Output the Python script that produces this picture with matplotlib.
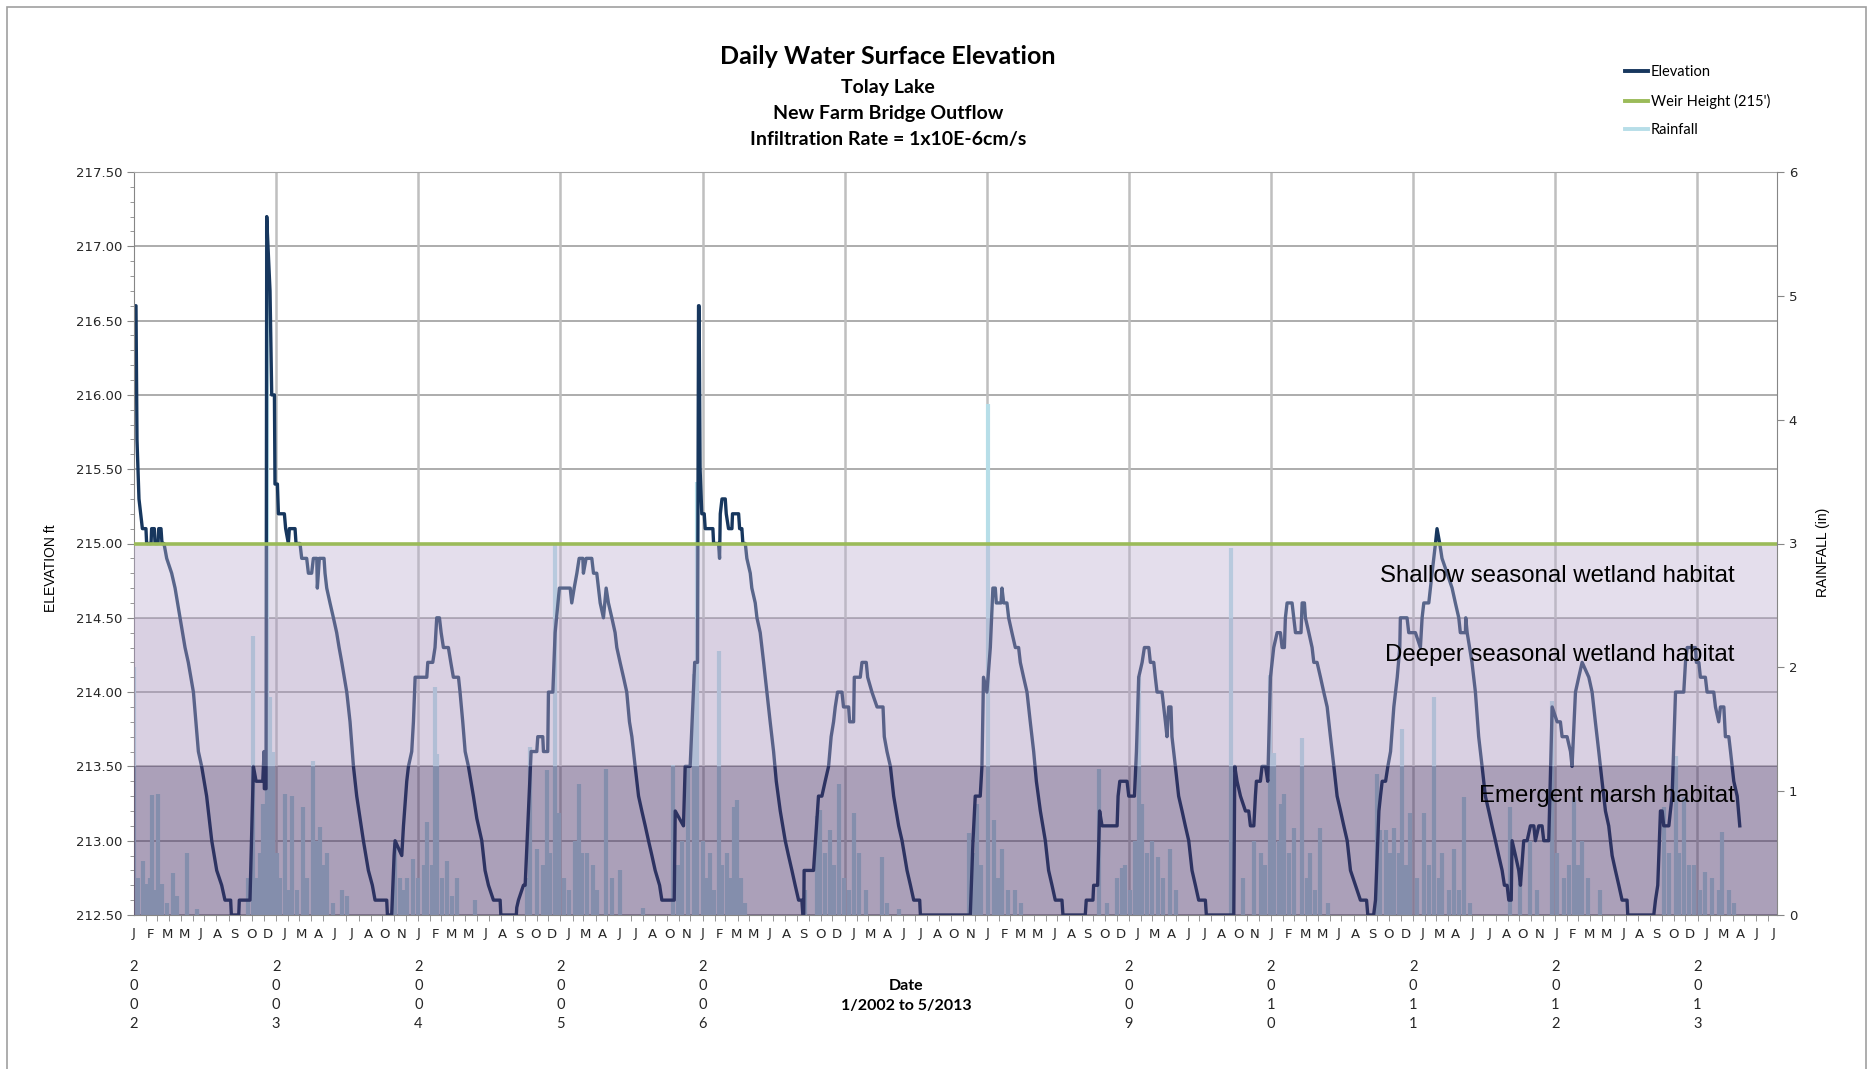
import datetime as dt
import numpy as np
import matplotlib
matplotlib.use("Agg")
import matplotlib.pyplot as plt
from matplotlib.patches import Rectangle
from matplotlib.lines import Line2D
from matplotlib.ticker import MultipleLocator, FormatStrFormatter

# daily water surface elevation (ft), turning points (x = decimal year)
elev_year = [
    2002.000, 2002.014, 2002.021, 2002.035, 2002.047, 2002.059, 2002.084, 2002.089, 2002.120, 2002.124,
    2002.143, 2002.148, 2002.169, 2002.174, 2002.190, 2002.197, 2002.211, 2002.230, 2002.265, 2002.289,
    2002.324, 2002.359, 2002.382, 2002.418, 2002.453, 2002.476, 2002.511, 2002.547, 2002.582, 2002.617,
    2002.640, 2002.680, 2002.685, 2002.737, 2002.741, 2002.816, 2002.840, 2002.859, 2002.906, 2002.915,
    2002.917, 2002.929, 2002.934, 2002.938, 2002.957, 2002.969, 2002.988, 2002.992, 2003.009, 2003.016,
    2003.058, 2003.067, 2003.086, 2003.093, 2003.133, 2003.140, 2003.168, 2003.180, 2003.215, 2003.227,
    2003.250, 2003.262, 2003.286, 2003.290, 2003.304, 2003.337, 2003.344, 2003.356, 2003.379, 2003.403,
    2003.426, 2003.443, 2003.462, 2003.497, 2003.520, 2003.544, 2003.567, 2003.614, 2003.649, 2003.677,
    2003.696, 2003.778, 2003.783, 2003.813, 2003.830, 2003.837, 2003.884, 2003.896, 2003.919, 2003.931,
    2003.954, 2003.966, 2003.978, 2004.060, 2004.067, 2004.102, 2004.118, 2004.130, 2004.149, 2004.161,
    2004.177, 2004.212, 2004.229, 2004.247, 2004.283, 2004.294, 2004.313, 2004.330, 2004.353, 2004.388,
    2004.412, 2004.447, 2004.470, 2004.494, 2004.529, 2004.576, 2004.581, 2004.690, 2004.693, 2004.705,
    2004.740, 2004.752, 2004.775, 2004.794, 2004.834, 2004.841, 2004.876, 2004.881, 2004.911, 2004.916,
    2004.947, 2004.963, 2004.993, 2005.069, 2005.080, 2005.097, 2005.116, 2005.132, 2005.158, 2005.162,
    2005.181, 2005.221, 2005.233, 2005.256, 2005.268, 2005.280, 2005.303, 2005.322, 2005.338, 2005.362,
    2005.385, 2005.397, 2005.420, 2005.444, 2005.467, 2005.486, 2005.503, 2005.526, 2005.550, 2005.573,
    2005.597, 2005.620, 2005.644, 2005.667, 2005.698, 2005.714, 2005.801, 2005.808, 2005.866, 2005.878,
    2005.913, 2005.945, 2005.965, 2005.972, 2005.976, 2005.983, 2005.995, 2006.012, 2006.019, 2006.073,
    2006.078, 2006.113, 2006.120, 2006.125, 2006.137, 2006.160, 2006.167, 2006.183, 2006.207, 2006.211,
    2006.254, 2006.261, 2006.277, 2006.284, 2006.301, 2006.312, 2006.336, 2006.347, 2006.371, 2006.383,
    2006.406, 2006.430, 2006.453, 2006.476, 2006.500, 2006.519, 2006.547, 2006.582, 2006.605, 2006.629,
    2006.652, 2006.676, 2006.699, 2006.706, 2006.712, 2006.715, 2006.781, 2006.816, 2006.840, 2006.863,
    2006.887, 2006.905, 2006.922, 2006.934, 2006.950, 2006.981, 2006.992, 2007.028, 2007.035, 2007.063,
    2007.068, 2007.110, 2007.122, 2007.152, 2007.162, 2007.192, 2007.228, 2007.270, 2007.279, 2007.298,
    2007.322, 2007.345, 2007.380, 2007.404, 2007.439, 2007.463, 2007.486, 2007.528, 2007.533, 2007.884,
    2007.903, 2007.919, 2007.954, 2007.966, 2007.977, 2008.001, 2008.025, 2008.043, 2008.060, 2008.067,
    2008.100, 2008.107, 2008.119, 2008.142, 2008.154, 2008.177, 2008.201, 2008.224, 2008.236, 2008.259,
    2008.283, 2008.306, 2008.330, 2008.349, 2008.377, 2008.412, 2008.435, 2008.459, 2008.482, 2008.529,
    2008.536, 2008.693, 2008.700, 2008.747, 2008.752, 2008.780, 2008.794, 2008.811, 2008.917, 2008.924,
    2008.936, 2008.987, 2008.999, 2009.039, 2009.053, 2009.069, 2009.093, 2009.109, 2009.140, 2009.151,
    2009.175, 2009.186, 2009.198, 2009.233, 2009.245, 2009.257, 2009.268, 2009.280, 2009.296, 2009.303,
    2009.327, 2009.350, 2009.374, 2009.397, 2009.421, 2009.444, 2009.468, 2009.491, 2009.538, 2009.545,
    2009.738, 2009.745, 2009.761, 2009.785, 2009.820, 2009.843, 2009.855, 2009.879, 2009.890, 2009.897,
    2009.925, 2009.937, 2009.961, 2009.977, 2009.996, 2010.019, 2010.043, 2010.066, 2010.078, 2010.094,
    2010.101, 2010.113, 2010.148, 2010.160, 2010.172, 2010.211, 2010.219, 2010.235, 2010.242, 2010.266,
    2010.289, 2010.301, 2010.324, 2010.348, 2010.371, 2010.395, 2010.418, 2010.442, 2010.465, 2010.489,
    2010.512, 2010.536, 2010.559, 2010.594, 2010.629, 2010.672, 2010.681, 2010.722, 2010.735, 2010.759,
    2010.770, 2010.782, 2010.806, 2010.822, 2010.841, 2010.864, 2010.888, 2010.906, 2010.910, 2010.957,
    2010.969, 2011.016, 2011.051, 2011.063, 2011.075, 2011.110, 2011.133, 2011.157, 2011.168, 2011.187,
    2011.203, 2011.239, 2011.274, 2011.297, 2011.321, 2011.332, 2011.368, 2011.370, 2011.380, 2011.414,
    2011.438, 2011.461, 2011.485, 2011.508, 2011.532, 2011.555, 2011.579, 2011.602, 2011.626, 2011.642,
    2011.661, 2011.673, 2011.690, 2011.696, 2011.720, 2011.743, 2011.755, 2011.778, 2011.802, 2011.825,
    2011.849, 2011.860, 2011.884, 2011.907, 2011.919, 2011.954, 2011.978, 2012.013, 2012.036, 2012.048,
    2012.083, 2012.107, 2012.118, 2012.142, 2012.165, 2012.189, 2012.236, 2012.259, 2012.282, 2012.306,
    2012.329, 2012.353, 2012.376, 2012.400, 2012.423, 2012.447, 2012.470, 2012.505, 2012.510, 2012.693,
    2012.705, 2012.721, 2012.740, 2012.752, 2012.763, 2012.799, 2012.810, 2012.822, 2012.846, 2012.904,
    2012.916, 2012.928, 2012.986, 2012.993, 2013.010, 2013.021, 2013.056, 2013.068, 2013.115, 2013.127,
    2013.150, 2013.162, 2013.186, 2013.197, 2013.221, 2013.233, 2013.256, 2013.280, 2013.298,
]
elev_ft = [
    216.6, 216.6, 215.7, 215.3, 215.2, 215.1, 215.1, 215.0, 215.0, 215.1,
    215.1, 215.0, 215.0, 215.1, 215.1, 215.0, 215.0, 214.9, 214.8, 214.7,
    214.5, 214.3, 214.2, 214.0, 213.6, 213.5, 213.3, 213.0, 212.8, 212.7,
    212.6, 212.6, 212.5, 212.5, 212.6, 212.6, 213.5, 213.4, 213.4, 213.6,
    213.35, 213.35, 217.2, 217.1, 216.7, 216.0, 216.0, 215.4, 215.4, 215.2,
    215.2, 215.1, 215.0, 215.1, 215.1, 215.0, 215.0, 214.9, 214.9, 214.8,
    214.8, 214.9, 214.9, 214.7, 214.9, 214.9, 214.8, 214.7, 214.6, 214.5,
    214.4, 214.3, 214.2, 214.0, 213.8, 213.5, 213.3, 213.0, 212.8, 212.7,
    212.6, 212.6, 212.5, 212.5, 212.9, 213.0, 212.9, 213.1, 213.4, 213.5,
    213.6, 213.8, 214.1, 214.1, 214.2, 214.2, 214.3, 214.5, 214.5, 214.4,
    214.3, 214.3, 214.2, 214.1, 214.1, 214.0, 213.8, 213.6, 213.5, 213.3,
    213.15, 213.0, 212.8, 212.7, 212.6, 212.6, 212.5, 212.5, 212.55, 212.6,
    212.7, 212.7, 213.2, 213.6, 213.6, 213.7, 213.7, 213.6, 213.6, 214.0,
    214.0, 214.4, 214.7, 214.7, 214.6, 214.7, 214.8, 214.9, 214.9, 214.8,
    214.9, 214.9, 214.8, 214.8, 214.7, 214.6, 214.5, 214.7, 214.6, 214.5,
    214.4, 214.3, 214.2, 214.1, 214.0, 213.8, 213.7, 213.5, 213.3, 213.2,
    213.1, 213.0, 212.9, 212.8, 212.7, 212.6, 212.6, 213.2, 213.1, 213.5,
    213.5, 214.2, 214.2, 216.6, 216.6, 215.5, 215.2, 215.2, 215.1, 215.1,
    215.0, 215.0, 214.9, 215.2, 215.3, 215.3, 215.2, 215.1, 215.1, 215.2,
    215.2, 215.1, 215.1, 215.0, 215.0, 214.9, 214.8, 214.7, 214.6, 214.5,
    214.4, 214.2, 214.0, 213.8, 213.6, 213.4, 213.2, 213.0, 212.9, 212.8,
    212.7, 212.6, 212.6, 212.5, 212.5, 212.8, 212.8, 213.3, 213.3, 213.4,
    213.5, 213.7, 213.8, 213.9, 214.0, 214.0, 213.9, 213.9, 213.8, 213.8,
    214.1, 214.1, 214.2, 214.2, 214.1, 214.0, 213.9, 213.9, 213.7, 213.6,
    213.5, 213.3, 213.1, 213.0, 212.8, 212.7, 212.6, 212.6, 212.5, 212.5,
    213.0, 213.3, 213.3, 213.5, 214.1, 214.0, 214.3, 214.7, 214.7, 214.6,
    214.6, 214.7, 214.6, 214.6, 214.5, 214.4, 214.3, 214.3, 214.2, 214.1,
    214.0, 213.8, 213.6, 213.4, 213.2, 213.0, 212.8, 212.7, 212.6, 212.6,
    212.5, 212.5, 212.6, 212.6, 212.7, 212.7, 213.2, 213.1, 213.1, 213.3,
    213.4, 213.4, 213.3, 213.3, 213.6, 214.1, 214.2, 214.3, 214.3, 214.2,
    214.2, 214.1, 214.0, 214.0, 213.9, 213.8, 213.7, 213.9, 213.9, 213.7,
    213.5, 213.3, 213.2, 213.1, 213.0, 212.8, 212.7, 212.6, 212.6, 212.5,
    212.5, 213.5, 213.4, 213.3, 213.2, 213.2, 213.1, 213.1, 213.3, 213.4,
    213.4, 213.5, 213.5, 213.4, 214.1, 214.3, 214.4, 214.4, 214.3, 214.3,
    214.5, 214.6, 214.6, 214.5, 214.4, 214.4, 214.6, 214.6, 214.5, 214.4,
    214.3, 214.2, 214.2, 214.1, 214.0, 213.9, 213.7, 213.5, 213.3, 213.2,
    213.1, 213.0, 212.8, 212.7, 212.6, 212.6, 212.5, 212.5, 212.6, 213.2,
    213.3, 213.4, 213.4, 213.5, 213.6, 213.9, 214.1, 214.3, 214.5, 214.5,
    214.4, 214.4, 214.3, 214.5, 214.6, 214.6, 214.8, 215.0, 215.1, 215.0,
    214.9, 214.8, 214.7, 214.6, 214.5, 214.4, 214.4, 214.5, 214.4, 214.2,
    214.0, 213.7, 213.5, 213.3, 213.2, 213.1, 213.0, 212.9, 212.8, 212.7,
    212.7, 212.6, 212.6, 213.0, 212.9, 212.8, 212.7, 213.0, 213.0, 213.1,
    213.1, 213.0, 213.1, 213.1, 213.0, 213.0, 213.9, 213.8, 213.8, 213.7,
    213.7, 213.6, 213.5, 214.0, 214.1, 214.2, 214.1, 214.0, 213.8, 213.6,
    213.4, 213.2, 213.1, 212.9, 212.8, 212.7, 212.6, 212.6, 212.5, 212.5,
    212.6, 212.7, 213.2, 213.2, 213.1, 213.1, 213.2, 213.3, 214.0, 214.0,
    214.2, 214.3, 214.3, 214.2, 214.2, 214.1, 214.1, 214.0, 214.0, 213.9,
    213.8, 213.9, 213.9, 213.7, 213.7, 213.6, 213.4, 213.3, 213.1,
]

# daily rainfall (in), main events
rain_year = [
    2002.000, 2002.030, 2002.066, 2002.089, 2002.110, 2002.124, 2002.148, 2002.171, 2002.195, 2002.230,
    2002.277, 2002.300, 2002.371, 2002.441, 2002.800, 2002.840, 2002.863, 2002.887, 2002.910, 2002.934,
    2002.957, 2002.981, 2003.009, 2003.030, 2003.063, 2003.085, 2003.110, 2003.150, 2003.192, 2003.215,
    2003.262, 2003.286, 2003.309, 2003.330, 2003.356, 2003.400, 2003.462, 2003.497, 2003.837, 2003.872,
    2003.900, 2003.919, 2003.966, 2004.000, 2004.040, 2004.060, 2004.095, 2004.118, 2004.130, 2004.165,
    2004.200, 2004.240, 2004.271, 2004.400, 2004.764, 2004.787, 2004.834, 2004.876, 2004.905, 2004.928,
    2004.963, 2004.987, 2005.022, 2005.060, 2005.100, 2005.128, 2005.151, 2005.186, 2005.233, 2005.260,
    2005.322, 2005.362, 2005.420, 2005.584, 2005.795, 2005.830, 2005.853, 2005.900, 2005.937, 2005.960,
    2006.002, 2006.030, 2006.054, 2006.080, 2006.113, 2006.140, 2006.172, 2006.200, 2006.219, 2006.242,
    2006.270, 2006.301, 2006.723, 2006.805, 2006.829, 2006.864, 2006.899, 2006.922, 2006.957, 2006.992,
    2007.030, 2007.063, 2007.098, 2007.150, 2007.262, 2007.300, 2007.380, 2007.872, 2007.908, 2007.931,
    2007.960, 2008.010, 2008.048, 2008.080, 2008.107, 2008.150, 2008.201, 2008.240, 2008.787, 2008.846,
    2008.917, 2008.952, 2008.975, 2009.010, 2009.040, 2009.069, 2009.093, 2009.128, 2009.160, 2009.207,
    2009.240, 2009.289, 2009.330, 2009.718, 2009.800, 2009.877, 2009.930, 2009.961, 2009.996, 2010.019,
    2010.054, 2010.070, 2010.089, 2010.124, 2010.160, 2010.219, 2010.250, 2010.277, 2010.310, 2010.348,
    2010.400, 2010.747, 2010.770, 2010.806, 2010.840, 2010.864, 2010.900, 2010.923, 2010.950, 2010.981,
    2011.030, 2011.075, 2011.110, 2011.145, 2011.180, 2011.204, 2011.250, 2011.286, 2011.320, 2011.356,
    2011.400, 2011.684, 2011.755, 2011.825, 2011.870, 2011.978, 2012.013, 2012.060, 2012.100, 2012.130,
    2012.160, 2012.189, 2012.230, 2012.318, 2012.763, 2012.799, 2012.846, 2012.870, 2012.904, 2012.940,
    2012.975, 2013.020, 2013.056, 2013.103, 2013.150, 2013.174, 2013.221, 2013.256,
]
rain_in = [
    2.0, 0.3, 0.44, 0.25, 0.3, 0.97, 0.2, 0.98, 0.25, 0.1,
    0.34, 0.15, 0.5, 0.05, 0.3, 2.25, 0.3, 0.5, 0.9, 5.56,
    1.76, 1.32, 0.5, 0.3, 0.98, 0.2, 0.96, 0.2, 0.87, 0.3,
    1.24, 0.6, 0.71, 0.4, 0.5, 0.1, 0.2, 0.15, 0.58, 0.3,
    0.2, 0.3, 0.45, 0.3, 0.4, 0.75, 0.4, 1.84, 1.3, 0.3,
    0.44, 0.15, 0.3, 0.12, 0.3, 1.36, 0.53, 0.4, 1.17, 0.5,
    2.99, 0.82, 0.3, 0.2, 0.6, 1.06, 0.5, 0.5, 0.4, 0.2,
    1.18, 0.3, 0.36, 0.06, 1.21, 0.4, 0.6, 1.2, 1.95, 3.5,
    0.6, 0.3, 0.5, 0.2, 2.13, 0.4, 0.5, 0.3, 0.87, 0.93,
    0.3, 0.1, 0.2, 0.8, 0.85, 0.5, 0.69, 0.4, 1.06, 0.3,
    0.2, 0.82, 0.5, 0.2, 0.47, 0.1, 0.05, 0.66, 0.5, 0.9,
    0.4, 4.13, 0.77, 0.3, 0.53, 0.2, 0.2, 0.1, 1.18, 0.1,
    0.3, 0.38, 0.4, 0.2, 0.6, 1.93, 0.9, 0.5, 0.6, 0.47,
    0.3, 0.53, 0.2, 2.96, 0.3, 0.6, 0.5, 0.4, 1.94, 1.31,
    0.6, 0.9, 0.98, 0.5, 0.7, 1.43, 0.3, 0.5, 0.2, 0.70,
    0.1, 1.14, 0.69, 0.69, 0.5, 0.7, 0.5, 1.50, 0.4, 0.82,
    0.3, 0.82, 0.4, 1.76, 0.3, 0.5, 0.2, 0.53, 0.2, 0.95,
    0.1, 0.87, 0.3, 0.6, 0.2, 1.73, 0.5, 0.3, 0.4, 0.95,
    0.4, 0.6, 0.3, 0.2, 0.87, 0.5, 1.28, 0.5, 0.95, 0.4,
    0.4, 0.2, 0.35, 0.3, 0.2, 0.67, 0.2, 0.1,
]

weir_height = 215.0
band_low = [212.5, 213.5, 214.5]
band_high = [213.5, 214.5, 215.0]
band_names = ["Emergent marsh habitat", "Deeper seasonal wetland habitat",
              "Shallow seasonal wetland habitat"]
year_labels = [2002, 2003, 2004, 2005, 2006, 2009, 2010, 2011, 2012, 2013]

navy = "#17375E"
green = "#9BBB59"
rain_blue = "#B7DEE8"
band_colors = [(72/255, 48/255, 103/255), (171/255, 151/255, 191/255), (188/255, 174/255, 208/255)]
band_alpha = [0.46, 0.45, 0.40]
band_text_y = [213.3, 214.25, 214.78]

W, H = 1874, 1069
fig = plt.figure(figsize=(W/100, H/100), dpi=100)
ax = fig.add_axes([134/W, 1 - 915/H, (1777 - 134)/W, (915 - 172)/H])
ax2 = ax.twinx()

x0, x1 = 2002.0, 2013.56

# grid
ax.set_yticks(np.arange(212.5, 217.51, 0.5))
ax.yaxis.grid(True, color="#A6A6A6", lw=1.3, zorder=0.5)
ax.set_axisbelow(True)
for yr in range(2003, 2014):
    ax.axvline(yr, color="#BFBFBF", lw=1.8, zorder=0.8)

# rainfall drawn inside ax so the habitat bands sit on top of it
ax.vlines(rain_year, 0, rain_in, colors=rain_blue, lw=3.0, transform=ax2.transData, zorder=1)
ax.plot(elev_year, elev_ft, color=navy, lw=2.4, zorder=2)

for lo, hi, c, a in zip(band_low, band_high, band_colors, band_alpha):
    ax.axhspan(lo, hi, color=c, alpha=a, lw=0, zorder=3)
ax.axhline(weir_height, color=green, lw=2.6, zorder=4)

for name, ty in zip(band_names, band_text_y):
    ax.text(0.974, ty, name, transform=ax.get_yaxis_transform(), ha="right", va="center",
            fontsize=17.3, family="Liberation Sans", zorder=5)

ax.set_xlim(x0, x1)
ax.set_ylim(212.5, 217.5)
ax2.set_ylim(0, 6)

# axes styling
ax.yaxis.set_major_formatter(FormatStrFormatter("%.2f"))
ax.yaxis.set_minor_locator(MultipleLocator(0.1))
ax.tick_params(axis="y", which="major", labelsize=9.5, length=5, color="#868686", labelcolor="#262626")
ax.tick_params(axis="y", which="minor", length=3, color="#868686")
for side in ["left", "bottom"]:
    ax.spines[side].set_color("#868686")
ax.spines["top"].set_color("#A6A6A6")
ax.spines["right"].set_visible(False)
for side in ["left", "top", "bottom"]:
    ax2.spines[side].set_visible(False)
ax2.spines["right"].set_color("#868686")
ax2.set_yticks(range(0, 7))
ax2.tick_params(axis="y", labelsize=9.5, length=5, color="#868686", labelcolor="#262626")

# month letters every 43 days, monthly minor ticks
start = dt.date(2002, 1, 1)
lab_pos, lab_txt = [], []
k = 0
while True:
    d = start + dt.timedelta(days=43 * k)
    xv = 2002 + (d - start).days / 365.25
    if xv > x1:
        break
    lab_pos.append(xv)
    lab_txt.append(d.strftime("%b")[0])
    k += 1
month_pos = []
for y in range(2002, 2014):
    for m in range(1, 13):
        xv = 2002 + (dt.date(y, m, 1) - start).days / 365.25
        if xv <= x1:
            month_pos.append(xv)
ax.set_xticks(lab_pos)
ax.set_xticklabels(lab_txt)
ax.set_xticks(month_pos, minor=True)
ax.tick_params(axis="x", which="major", length=0, pad=9, labelsize=9.5, labelcolor="#262626")
ax.tick_params(axis="x", which="minor", length=4, color="#868686")

for yl in year_labels:
    ax.text(yl, -0.108, "\n".join(str(yl)), transform=ax.get_xaxis_transform(), ha="center",
            va="center", fontsize=10.5, linespacing=1.45, family="Lato", color="#262626")

fig.text(906/W, 1 - 996/H, "Date\n1/2002 to 5/2013", ha="center", va="center", fontsize=11.5,
         fontweight="bold", family="Lato", linespacing=1.5)

# titles
fig.text(888/W, 1 - 57/H, "Daily Water Surface Elevation", ha="center", va="center",
         fontsize=18, fontweight="bold", family="Lato")
for t, yy in zip(["Tolay Lake", "New Farm Bridge Outflow", "Infiltration Rate = 1x10E-6cm/s"], [87, 114, 140]):
    fig.text(888/W, 1 - yy/H, t, ha="center", va="center", fontsize=14, fontweight="bold", family="Lato")

fig.text(51/W, 1 - 568/H, "ELEVATION ft", rotation=90, ha="center", va="center", fontsize=10,
         family="Liberation Sans")
fig.text(1823/W, 1 - 552/H, "RAINFALL (in)", rotation=90, ha="center", va="center", fontsize=10,
         family="Liberation Sans")

# legend
handles = [Line2D([], [], color=navy, lw=2.8), Line2D([], [], color=green, lw=2.8),
           Line2D([], [], color=rain_blue, lw=2.8)]
fig.legend(handles, ["Elevation", "Weir Height (215')", "Rainfall"], loc="upper left",
           bbox_to_anchor=(1612/W, 1 - 52/H), frameon=False, handlelength=1.6, handletextpad=0.15,
           labelspacing=1.0, prop={"family": "Lato", "size": 10.5})

fig.patches.append(Rectangle((7/W, -0.05), (1866 - 7)/W, 1.05 - 7/H, transform=fig.transFigure,
                             fill=False, edgecolor="#A0A0A0", lw=1.2))

fig.savefig("out.png", dpi=100)
